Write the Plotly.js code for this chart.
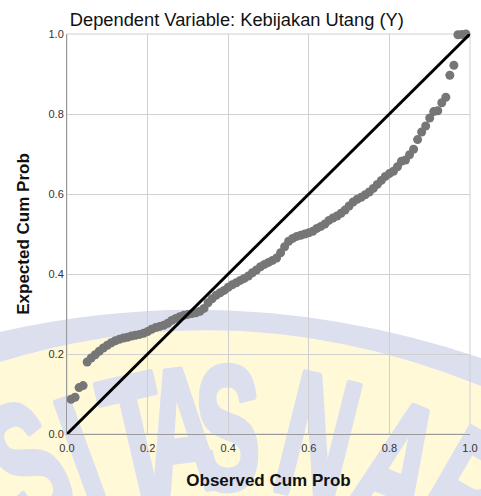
<!DOCTYPE html>
<html>
<head>
<meta charset="utf-8">
<script src="https://cdn.plot.ly/plotly-3.0.1.min.js"></script>
<style>
  html, body { margin: 0; padding: 0; background: #ffffff; }
  #chart { width: 481px; height: 496px; }
</style>
</head>
<body>
<div id="chart"></div>
<script>
// Observed cumulative probability (x) and expected cumulative probability (y)
const observedCumProb = [
  0.01,0.02,0.03,0.04,0.05,0.06,0.07,0.08,0.09,0.10,
  0.11,0.12,0.13,0.14,0.15,0.16,0.17,0.18,0.19,0.20,
  0.21,0.22,0.23,0.24,0.25,0.26,0.27,0.28,0.29,0.30,
  0.31,0.32,0.33,0.34,0.35,0.36,0.37,0.38,0.39,0.40,
  0.41,0.42,0.43,0.44,0.45,0.46,0.47,0.48,0.49,0.50,
  0.51,0.52,0.53,0.54,0.55,0.56,0.57,0.58,0.59,0.60,
  0.61,0.62,0.63,0.64,0.65,0.66,0.67,0.68,0.69,0.70,
  0.71,0.72,0.73,0.74,0.75,0.76,0.77,0.78,0.79,0.80,
  0.81,0.82,0.83,0.84,0.85,0.86,0.87,0.88,0.89,0.90,
  0.91,0.92,0.93,0.94,0.95,0.96,0.97,0.98,0.99
];
const expectedCumProb = [
  0.087,0.092,0.116,0.121,0.180,0.190,0.198,0.207,0.215,0.222,
  0.228,0.233,0.237,0.240,0.242,0.245,0.247,0.249,0.252,0.256,
  0.262,0.266,0.269,0.272,0.277,0.284,0.289,0.293,0.297,0.299,
  0.301,0.303,0.307,0.314,0.328,0.338,0.347,0.353,0.359,0.367,
  0.373,0.378,0.384,0.389,0.395,0.403,0.410,0.418,0.424,0.429,
  0.434,0.440,0.453,0.468,0.482,0.489,0.494,0.497,0.500,0.503,
  0.507,0.514,0.519,0.525,0.534,0.540,0.545,0.552,0.560,0.570,
  0.580,0.587,0.592,0.598,0.605,0.614,0.624,0.634,0.644,0.651,
  0.657,0.668,0.682,0.685,0.698,0.712,0.736,0.755,0.770,0.790,
  0.806,0.808,0.828,0.842,0.897,0.922,0.998,0.999,1.000
];
const refLineX = [0, 1];
const refLineY = [0, 1];
const tickVals = [0, 0.2, 0.4, 0.6, 0.8, 1.0];
const tickLabels = ["0.0", "0.2", "0.4", "0.6", "0.8", "1.0"];
const chartTitle = "Dependent Variable: Kebijakan Utang (Y)";
const xTitle = "Observed Cum Prob";
const yTitle = "Expected Cum Prob";
const watermarkLetters = ["S", "I", "T", "A", "S", "N", "A", "R"];

// ---- layout geometry (pixels) ----
const M = { l: 67, r: 11, t: 34, b: 62 };
const W = 481, H = 496;
const PW = W - M.l - M.r, PH = H - M.t - M.b;
const px2x = p => (p - M.l) / PW;
const py2y = p => (H - M.b - p) / PH;
const pt = (a, b) => px2x(a).toFixed(4) + "," + py2y(b).toFixed(4);

// watermark decoration (background)
const yellowPath = "M" + pt(0, 362) + " Q" + pt(239.5, 288) + " " + pt(481, 386) +
  " L" + pt(481, 496) + " L" + pt(0, 496) + " Z";
const bandPath = "M" + pt(0, 332) + " Q" + pt(239.5, 277) + " " + pt(481, 358) +
  " L" + pt(481, 386) + " Q" + pt(239.5, 288) + " " + pt(0, 362) + " Z";
// [center x px, center y px, angle]
const letterPos = [
  [28, 465, -25], [82, 457, -20], [136, 437, -13], [180, 430, -7], [227, 427, 0],
  [318, 437, 14], [397, 465, 22], [465, 493, 30]
];
const letterAnn = watermarkLetters.map((ch, i) => ({
  text: ch, xref: "paper", yref: "paper",
  x: px2x(letterPos[i][0]), y: py2y(letterPos[i][1]),
  xanchor: "center", yanchor: "middle", textangle: letterPos[i][2],
  showarrow: false,
  font: { family: "Liberation Sans, Arial, sans-serif",
          size: 175, weight: "bold", color: "#dcdfee" }
}));

const traces = [
  {
    x: observedCumProb, y: expectedCumProb, type: "scatter", mode: "markers",
    marker: { color: "#767676", size: 9, line: { width: 0 } },
    cliponaxis: false, hoverinfo: "skip"
  },
  {
    x: refLineX, y: refLineY, type: "scatter", mode: "lines",
    line: { color: "#000000", width: 3 }, cliponaxis: false, hoverinfo: "skip"
  }
];

const axisCommon = {
  range: [0, 1], tickmode: "array", tickvals: tickVals, ticktext: tickLabels,
  showgrid: true, gridcolor: "#d0d0d0", gridwidth: 1, zeroline: false,
  showline: true, linecolor: "#999999", linewidth: 1, ticks: "",
  tickfont: { family: "Arial, Liberation Sans, sans-serif", size: 11, color: "#333333" },
  fixedrange: true
};
const titleFont = { family: "Arial, Liberation Sans, sans-serif", size: 17, weight: "bold", color: "#111111" };

const layout = {
  width: W, height: H,
  margin: M,
  paper_bgcolor: "#ffffff", plot_bgcolor: "#ffffff",
  showlegend: false,
  title: {
    text: chartTitle, xref: "paper", x: 0.007, xanchor: "left",
    yref: "container", y: 1 - 20 / H, yanchor: "middle",
    font: { family: "Arial, Liberation Sans, sans-serif", size: 18.3, color: "#111111" }
  },
  xaxis: Object.assign({}, axisCommon, {
    ticklabelstandoff: 4,
    title: { text: xTitle, standoff: 20, font: titleFont }
  }),
  yaxis: Object.assign({}, axisCommon, {
    title: { text: yTitle, standoff: 14, font: titleFont }
  }),
  shapes: [
    { type: "path", path: yellowPath, xref: "paper", yref: "paper", layer: "below",
      fillcolor: "#fff9d8", line: { width: 0 } },
    { type: "path", path: bandPath, xref: "paper", yref: "paper", layer: "below",
      fillcolor: "#dcdfee", line: { width: 0 } },
    { type: "rect", xref: "paper", yref: "paper", x0: 0, y0: 0, x1: 1, y1: 1,
      layer: "below", line: { color: "#d0d0d0", width: 1 } }
  ],
  annotations: letterAnn
};

Plotly.newPlot("chart", traces, layout, { displayModeBar: false, staticPlot: true }).then(() => {
  const below = document.querySelector("#chart .layer-below .shapelayer") ||
                document.querySelector("#chart .layer-below");
  document.querySelectorAll("#chart .annotation-text").forEach(t => {
    t.style.transformBox = "fill-box";
    t.style.transformOrigin = "center";
    t.style.transform = "scaleX(0.56)";
    t.style.stroke = "#dcdfee";
    t.style.strokeWidth = "7px";
    t.style.strokeLinejoin = "round";
  });
  if (below) {
    document.querySelectorAll("#chart .annotation").forEach(g => { below.appendChild(g); });
  }
});
</script>
</body>
</html>
